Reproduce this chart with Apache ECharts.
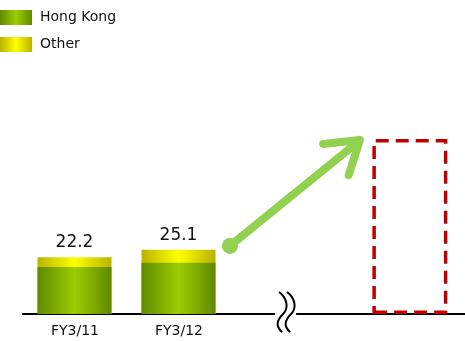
<!DOCTYPE html>
<html>
<head>
<meta charset="utf-8">
<style>
  html, body { margin: 0; padding: 0; background: #fff; }
  #chart { width: 465px; height: 341px; }
</style>
<script src="https://cdn.jsdelivr.net/npm/echarts@6/dist/echarts.min.js"></script>
</head>
<body>
<div id="chart"></div>
<script>
// Fiscal years shown on the axis and their positions on the x scale
const categories = ['FY3/11', 'FY3/12'];
const positions = [0, 1];

// Segment values
const hongKong = [18.4, 20.0];
const other = [3.8, 5.1];

// Outlined target bar beyond the axis break
const targetPosition = 3.22;
const targetValue = 68.4;

// Growth arrow: start point and tip, in data coordinates
const arrowStart = [1.49, 26.6];
const arrowTip = [2.74, 68.0];

// Axis break location
const breakPosition = 2.02;

const FONT = '"DejaVu Sans", Verdana, sans-serif';

function hGradient(edge, mid) {
  return new echarts.graphic.LinearGradient(0, 0, 1, 0, [
    { offset: 0, color: edge },
    { offset: 0.5, color: mid },
    { offset: 1, color: edge }
  ]);
}

const chart = echarts.init(document.getElementById('chart'), null, { renderer: 'canvas' });

// The "Other" segment sits on top of Hong Kong: its bar reaches the total
const totals = hongKong.map((v, i) => +(v + other[i]).toFixed(1));

const option = {
  animation: false,
  backgroundColor: '#ffffff',
  legend: {
    data: ['Hong Kong', 'Other'],
    orient: 'vertical',
    left: 0,
    top: 10,
    padding: 0,
    itemWidth: 32,
    itemHeight: 15,
    itemGap: 12,
    icon: 'rect',
    textStyle: { fontFamily: FONT, fontSize: 14, color: '#111', padding: [0, 0, 0, 3] }
  },
  grid: { left: 23, right: 0, top: 58, bottom: 27, containLabel: false },
  xAxis: {
    type: 'value',
    min: -0.5,
    max: 3.75,
    splitLine: { show: false },
    axisTick: { show: false },
    axisLine: { show: true, onZero: false, lineStyle: { color: '#000', width: 2 } },
    axisLabel: {
      customValues: positions,
      formatter: (v) => categories[positions.indexOf(v)] || '',
      fontFamily: FONT,
      fontSize: 14,
      color: '#111',
      margin: 10
    }
  },
  yAxis: {
    type: 'value',
    min: 0,
    max: 100,
    show: false,
    splitLine: { show: false }
  },
  series: [
    {
      name: 'Other',
      type: 'bar',
      barWidth: 74,
      barGap: '-100%',
      z: 2,
      itemStyle: { color: hGradient('#b9b300', '#ffff00') },
      label: {
        show: true,
        position: 'top',
        distance: 6,
        fontFamily: FONT,
        fontSize: 17,
        color: '#111',
        formatter: (p) => totals[p.dataIndex].toFixed(1)
      },
      data: positions.map((p, i) => [p, totals[i]])
    },
    {
      name: 'Hong Kong',
      type: 'bar',
      barWidth: 74,
      barGap: '-100%',
      z: 3,
      itemStyle: { color: hGradient('#5f8a00', '#9dcc00') },
      data: positions.map((p, i) => [p, hongKong[i]])
    },
    {
      name: 'Target',
      type: 'bar',
      barWidth: 75,
      barGap: '-100%',
      itemStyle: {
        color: 'rgba(0,0,0,0)',
        borderColor: '#c00000',
        borderWidth: 3.5,
        borderType: [13, 7]
      },
      data: [[targetPosition, targetValue]]
    },
    {
      name: 'Growth',
      type: 'custom',
      clip: false,
      silent: true,
      encode: { x: [0, 2], y: [1, 3] },
      data: [[arrowStart[0], arrowStart[1], arrowTip[0], arrowTip[1]]],
      renderItem: function (params, api) {
        const s = api.coord([api.value(0), api.value(1)]);
        const t = api.coord([api.value(2), api.value(3)]);
        const back = Math.atan2(s[1] - t[1], s[0] - t[0]);
        const armLen = 37;
        const spread = 33 * Math.PI / 180;
        const a1 = [t[0] + armLen * Math.cos(back + spread), t[1] + armLen * Math.sin(back + spread)];
        const a2 = [t[0] + armLen * Math.cos(back - spread), t[1] + armLen * Math.sin(back - spread)];
        const style = { stroke: '#92d050', lineWidth: 8, fill: null, lineCap: 'round', lineJoin: 'round' };
        return {
          type: 'group',
          children: [
            { type: 'line', shape: { x1: s[0], y1: s[1], x2: t[0] - 2, y2: t[1] + 2 }, style: style },
            { type: 'polyline', shape: { points: [a1, t, a2] }, style: style },
            { type: 'circle', shape: { cx: s[0], cy: s[1], r: 8 }, style: { fill: '#92d050' } }
          ]
        };
      }
    },
    {
      name: 'Break',
      type: 'custom',
      clip: false,
      silent: true,
      encode: { x: 0, y: 1 },
      data: [[breakPosition, 0]],
      renderItem: function (params, api) {
        const c = api.coord([api.value(0), api.value(1)]);
        const wave = 'M -6 -22 C 2 -16 4 -6 -2 0 C -8 6 -10 12 -3 18';
        const waveStyle = { stroke: '#000', lineWidth: 2, fill: null };
        return {
          type: 'group',
          x: c[0],
          y: c[1],
          children: [
            { type: 'rect', shape: { x: -10, y: -3, width: 21, height: 6 }, style: { fill: '#fff' } },
            { type: 'path', shape: { pathData: wave }, style: waveStyle },
            { type: 'path', x: 8, shape: { pathData: wave }, style: waveStyle }
          ]
        };
      }
    }
  ]
};

chart.setOption(option);
</script>
</body>
</html>
